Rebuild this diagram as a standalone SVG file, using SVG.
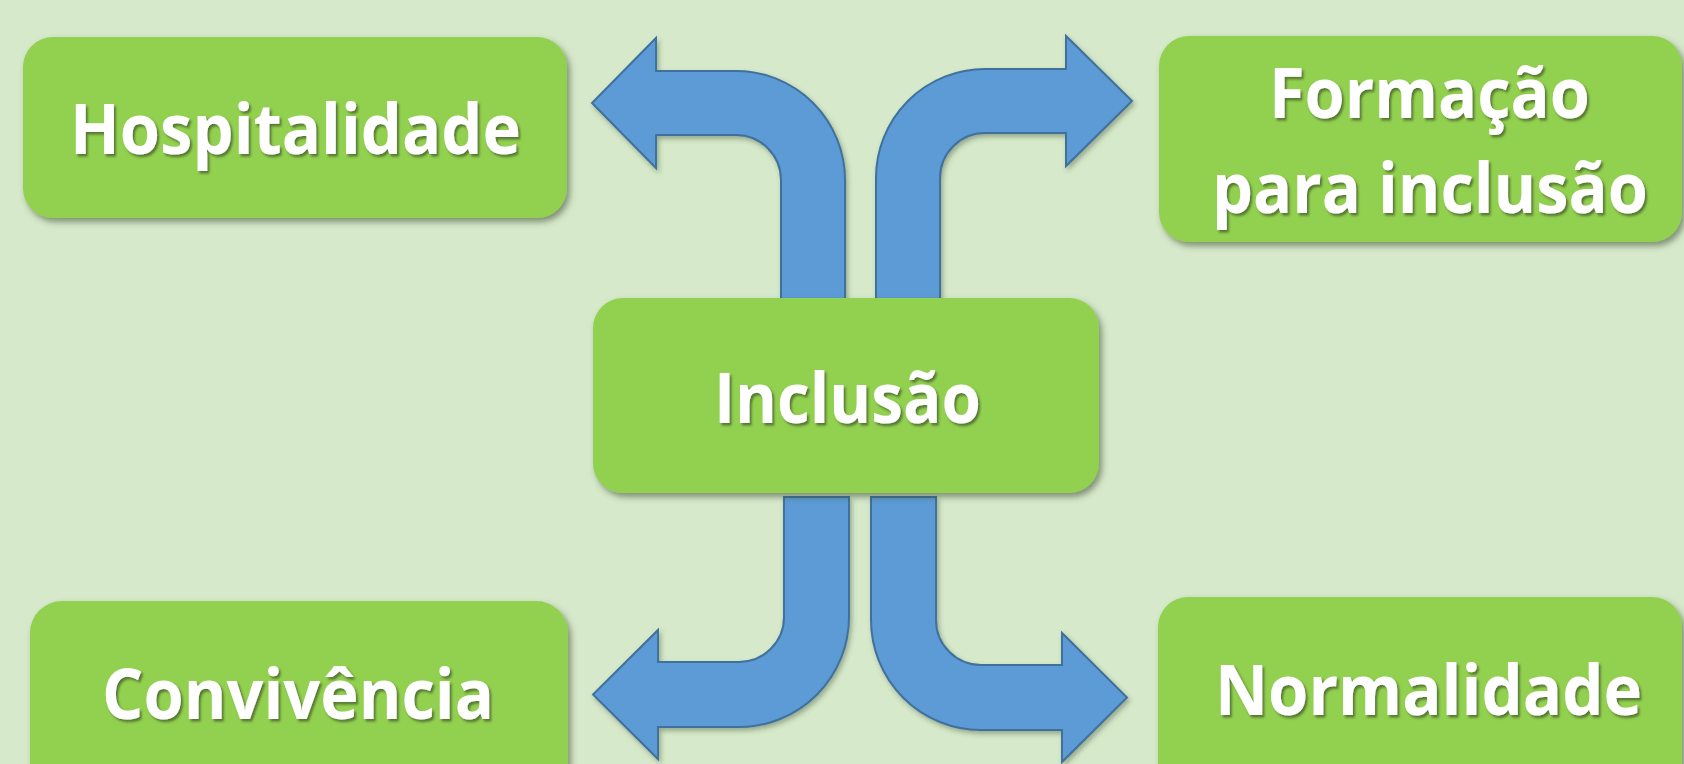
<svg xmlns="http://www.w3.org/2000/svg" width="1684" height="764" viewBox="0 0 1684 764">
  <defs>
    <filter id="boxShadow" x="-10%" y="-10%" width="130%" height="130%">
      <feDropShadow dx="3" dy="4" stdDeviation="3" flood-color="#3a4a30" flood-opacity="0.55"/>
    </filter>
    <filter id="arrowShadow" x="-10%" y="-10%" width="130%" height="130%">
      <feDropShadow dx="2" dy="3" stdDeviation="2.5" flood-color="#3a4a30" flood-opacity="0.4"/>
    </filter>
    <filter id="textShadow" x="-10%" y="-20%" width="130%" height="150%">
      <feDropShadow dx="2" dy="2.5" stdDeviation="1" flood-color="#2a3a20" flood-opacity="0.6"/>
    </filter>
  </defs>
  <style>
    .box { fill: #92D050; filter: url(#boxShadow); }
    .arrow { fill: #5B9BD5; stroke: #41719C; stroke-width: 2; stroke-linejoin: miter; filter: url(#arrowShadow); }
    .label { font-family: "Open Sans", "Liberation Sans", sans-serif; font-weight: 700; font-size: 70px; fill: #FFFFFF; filter: url(#textShadow); }
  </style>
  <rect x="0" y="0" width="1684" height="764" fill="#D6E9CA"/>

  <g id="connectors">
    <path class="arrow" d="M 781 320 L 781 180 A 45 45 0 0 0 736 135 L 656 135 L 656 168 L 592 103 L 656 38 L 656 71 L 736 71 A 109 109 0 0 1 845 180 L 845 320 Z"/>
    <path class="arrow" d="M 876 320 L 876 178 A 109 109 0 0 1 985 69 L 1066 69 L 1066 36 L 1132 101 L 1066 166 L 1066 133 L 985 133 A 45 45 0 0 0 940 178 L 940 320 Z"/>
    <path class="arrow" d="M 784 497 L 784 617 A 45 45 0 0 1 739 662 L 658 662 L 658 630 L 593 694.5 L 658 759 L 658 727 L 739 727 A 110 110 0 0 0 849 617 L 849 497 Z"/>
    <path class="arrow" d="M 871 497 L 871 620 A 110 110 0 0 0 981 730 L 1062 730 L 1062 762 L 1127 697.5 L 1062 633 L 1062 665 L 981 665 A 45 45 0 0 1 936 620 L 936 497 Z"/>
  </g>

  <g id="node-hospitalidade">
    <rect class="box" x="23" y="37" width="544" height="181" rx="30" ry="30"/>
    <text class="label" x="70" y="154" textLength="451" lengthAdjust="spacingAndGlyphs">Hospitalidade</text>
  </g>

  <g id="node-formacao">
    <rect class="box" x="1159" y="36" width="523" height="206" rx="30" ry="30"/>
    <text class="label" x="1269" y="118" textLength="321" lengthAdjust="spacingAndGlyphs">Formação</text>
    <text class="label" x="1212" y="213" textLength="436" lengthAdjust="spacingAndGlyphs">para inclusão</text>
  </g>

  <g id="node-inclusao">
    <rect class="box" x="593" y="298" width="506" height="195" rx="30" ry="30"/>
    <text class="label" x="714" y="423" textLength="267" lengthAdjust="spacingAndGlyphs">Inclusão</text>
  </g>

  <g id="node-convivencia">
    <rect class="box" x="30" y="601" width="538" height="200" rx="32" ry="32"/>
    <text class="label" x="102" y="719" textLength="392" lengthAdjust="spacingAndGlyphs">Convivência</text>
  </g>

  <g id="node-normalidade">
    <rect class="box" x="1158" y="597" width="524" height="200" rx="30" ry="30"/>
    <text class="label" x="1215" y="715" textLength="427" lengthAdjust="spacingAndGlyphs">Normalidade</text>
  </g>
</svg>
